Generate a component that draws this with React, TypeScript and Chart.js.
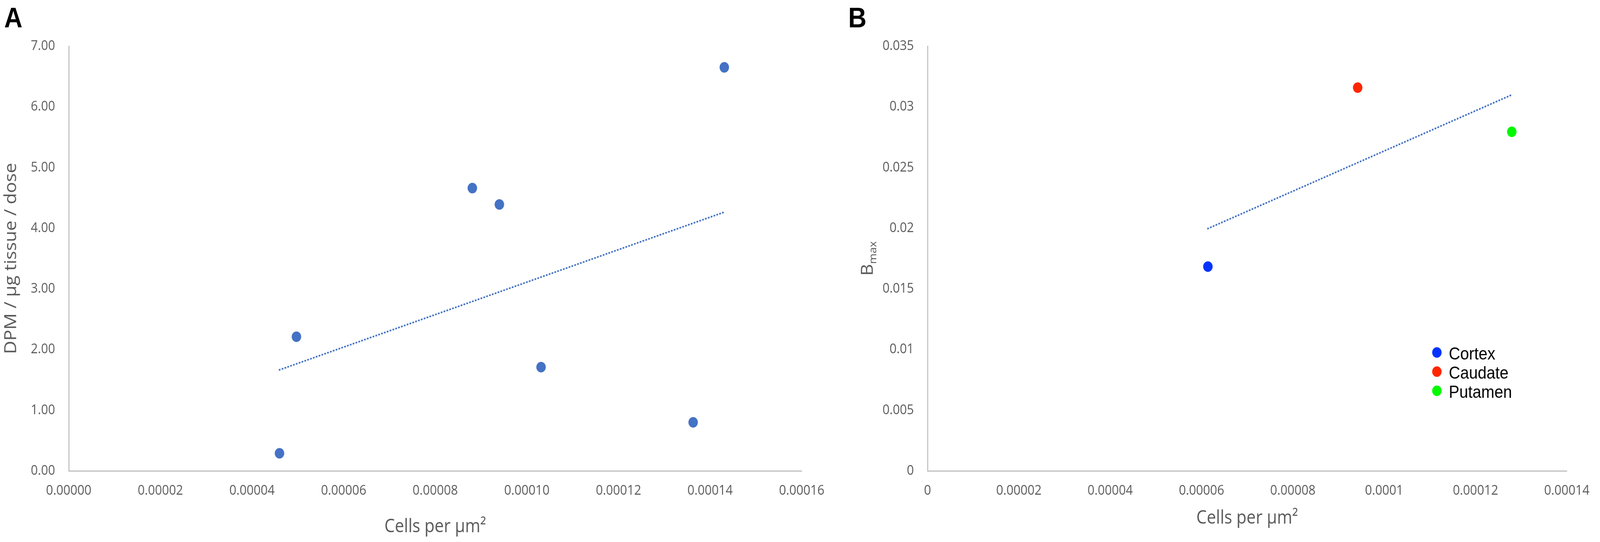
import { useEffect, useRef } from "react"
import { Chart, registerables } from "chart.js"

// Register Chart.js components
Chart.register(...registerables)

// Panel A: DPM per µg tissue per dose against cell density
const cellsA = [0.000046, 0.0000497, 0.0000881, 0.000094, 0.0001031, 0.0001363, 0.0001431]
const dpmA = [0.29, 2.21, 4.66, 4.39, 1.71, 0.8, 6.65]
const xTicksA = [0, 0.00002, 0.00004, 0.00006, 0.00008, 0.0001, 0.00012, 0.00014, 0.00016]
const yTicksA = [0, 1, 2, 3, 4, 5, 6, 7]

// Panel B: Bmax by region
const regionsB = ["Cortex", "Caudate", "Putamen"]
const cellsB = [0.0000614, 0.0000942, 0.00012795]
const bmaxB = [0.01683, 0.03158, 0.02794]
const colorsB = ["#0433FF", "#FF2600", "#00F900"]
const xTicksB = [0, 0.00002, 0.00004, 0.00006, 0.00008, 0.0001, 0.00012, 0.00014]
const yTicksB = [0, 0.005, 0.01, 0.015, 0.02, 0.025, 0.03, 0.035]

const GREY = "#595959"
const AXIS = "#BFBFBF"
const TREND = "#4472C4"
const FONT = "'Open Sans', sans-serif"
const TICK_FONT = { family: FONT, size: 35 }
const TITLE_FONT = { family: FONT, size: 47 }

// figure is laid out at this size, then squeezed to the window width
const WIDTH = 4561
const HEIGHT = 1387
const X_AXIS_HEIGHT = 182

// least squares line over the range of the data
function trendline(xs: number[], ys: number[]) {
  const n = xs.length
  const mx = xs.reduce((a, b) => a + b, 0) / n
  const my = ys.reduce((a, b) => a + b, 0) / n
  let sxy = 0
  let sxx = 0
  xs.forEach((x, i) => {
    sxy += (x - mx) * (ys[i] - my)
    sxx += (x - mx) * (x - mx)
  })
  const slope = sxy / sxx
  const lo = Math.min(...xs)
  const hi = Math.max(...xs)
  return [
    { x: lo, y: my + slope * (lo - mx) },
    { x: hi, y: my + slope * (hi - mx) },
  ]
}

function trendDataset(xs: number[], ys: number[]) {
  return {
    label: "trend",
    data: trendline(xs, ys),
    showLine: true,
    borderColor: TREND,
    borderWidth: 4.5,
    borderDash: [1, 7.5],
    borderCapStyle: "round",
    pointRadius: 0,
  }
}

function xScale(ticks: number[], fmt: (v: number) => string, title: string, titlePad: number) {
  return {
    type: "linear",
    min: ticks[0],
    max: ticks[ticks.length - 1],
    afterBuildTicks: (s: any) => {
      s.ticks = ticks.map((value) => ({ value }))
    },
    afterFit: (s: any) => {
      s.height = X_AXIS_HEIGHT
    },
    grid: { display: false, drawTicks: false, tickLength: 0 },
    border: { display: true, color: AXIS, width: 3 },
    ticks: {
      color: GREY,
      font: TICK_FONT,
      padding: 30,
      maxRotation: 0,
      autoSkip: false,
      callback: (v: any) => fmt(Number(v)),
    },
    title: { display: true, text: title, color: GREY, font: TITLE_FONT, padding: { top: 0, bottom: titlePad } },
  }
}

function yScale(ticks: number[], fmt: (v: number) => string, width: number, title?: string) {
  return {
    type: "linear",
    min: ticks[0],
    max: ticks[ticks.length - 1],
    afterBuildTicks: (s: any) => {
      s.ticks = ticks.map((value) => ({ value }))
    },
    afterFit: (s: any) => {
      s.width = width
    },
    grid: { display: false, drawTicks: false, tickLength: 0 },
    border: { display: true, color: AXIS, width: 3 },
    ticks: {
      color: GREY,
      font: TICK_FONT,
      padding: 39,
      autoSkip: false,
      callback: (v: any) => fmt(Number(v)),
    },
    title: {
      display: !!title,
      text: title || "",
      color: GREY,
      font: TITLE_FONT,
      padding: { top: 4, bottom: 0 },
    },
  }
}

// y title of panel B with a subscript
const bmaxTitle = {
  id: "bmaxTitle",
  afterDraw(chart: any) {
    const { ctx, chartArea } = chart
    ctx.save()
    ctx.fillStyle = GREY
    ctx.textBaseline = "alphabetic"
    ctx.font = `47px ${FONT}`
    const wB = ctx.measureText("B").width
    ctx.font = `29px ${FONT}`
    const wM = ctx.measureText("max").width
    const start = (chartArea.top + chartArea.bottom) / 2 + (wB + wM) / 2
    ctx.translate(chartArea.left - 156, start)
    ctx.rotate(-Math.PI / 2)
    ctx.font = `47px ${FONT}`
    ctx.fillText("B", 0, 0)
    ctx.font = `29px ${FONT}`
    ctx.fillText("max", wB, 10)
    ctx.restore()
  },
}

// legend inside the plot area of panel B
const regionLegend = {
  id: "regionLegend",
  afterDraw(chart: any) {
    const { ctx, chartArea } = chart
    const x = chartArea.left + 1452
    const y0 = chartArea.top + 784
    ctx.save()
    regionsB.forEach((name, i) => {
      const y = y0 + i * 49
      ctx.beginPath()
      ctx.arc(x, y, 13.5, 0, Math.PI * 2)
      ctx.fillStyle = colorsB[i]
      ctx.fill()
      ctx.fillStyle = "#000"
      ctx.font = "45px 'Liberation Sans', Arial, sans-serif"
      ctx.textBaseline = "middle"
      ctx.fillText(name, x + 34, y + 6)
    })
    ctx.restore()
  },
}

function PanelA() {
  const chartRef = useRef<HTMLCanvasElement>(null)
  const chartInstance = useRef<Chart | null>(null)

  useEffect(() => {
    if (!chartRef.current) return
    if (chartInstance.current) chartInstance.current.destroy()

    const ctx = chartRef.current.getContext("2d")
    if (!ctx) return

    chartInstance.current = new Chart(ctx, {
      type: "scatter",
      data: {
        datasets: [
          trendDataset(cellsA, dpmA) as any,
          {
            label: "DPM",
            data: cellsA.map((x, i) => ({ x, y: dpmA[i] })),
            backgroundColor: "#4472C4",
            borderWidth: 0,
            pointRadius: 13.5,
          },
        ],
      },
      options: {
        animation: false,
        responsive: false,
        devicePixelRatio: 1,
        events: [],
        layout: { padding: { top: 118, right: 90, left: 0, bottom: 0 } },
        plugins: { legend: { display: false }, tooltip: { enabled: false } },
        scales: {
          x: xScale(xTicksA, (v) => v.toFixed(5), "Cells per µm²", 10) as any,
          y: yScale(yTicksA, (v) => v.toFixed(2), 196, "DPM / µg tissue / dose") as any,
        },
      },
    })

    return () => {
      if (chartInstance.current) {
        chartInstance.current.destroy()
        chartInstance.current = null
      }
    }
  }, [])

  return <canvas ref={chartRef} width={2380} height={HEIGHT} style={{ position: "absolute", left: 0, top: 0 }} />
}

function PanelB() {
  const chartRef = useRef<HTMLCanvasElement>(null)
  const chartInstance = useRef<Chart | null>(null)

  useEffect(() => {
    if (!chartRef.current) return
    if (chartInstance.current) chartInstance.current.destroy()

    const ctx = chartRef.current.getContext("2d")
    if (!ctx) return

    chartInstance.current = new Chart(ctx, {
      type: "scatter",
      data: {
        datasets: [
          trendDataset(cellsB, bmaxB) as any,
          ...regionsB.map((name, i) => ({
            label: name,
            data: [{ x: cellsB[i], y: bmaxB[i] }],
            backgroundColor: colorsB[i],
            borderWidth: 0,
            pointRadius: 13.5,
          })),
        ],
      },
      options: {
        animation: false,
        responsive: false,
        devicePixelRatio: 1,
        events: [],
        layout: { padding: { top: 118, right: 77, left: 0, bottom: 0 } },
        plugins: { legend: { display: false }, tooltip: { enabled: false } },
        scales: {
          x: xScale(xTicksB, (v) => String(Number(v.toFixed(5))), "Cells per µm²", 32) as any,
          y: yScale(yTicksB, (v) => String(Number(v.toFixed(3))), 264) as any,
        },
      },
      plugins: [bmaxTitle, regionLegend],
    })

    return () => {
      if (chartInstance.current) {
        chartInstance.current.destroy()
        chartInstance.current = null
      }
    }
  }, [])

  return <canvas ref={chartRef} width={2181} height={HEIGHT} style={{ position: "absolute", left: 2380, top: 0 }} />
}

const letterStyle: React.CSSProperties = {
  position: "absolute",
  top: 9,
  font: "bold 72px 'Liberation Sans', Arial, sans-serif",
  lineHeight: 1,
  color: "#000",
}

export default function App() {
  // the browser window can be narrower than the figure, so squeeze it to fit
  const sx = Math.min(1, window.innerWidth / WIDTH)
  const sy = Math.min(1, window.innerHeight / HEIGHT)

  return (
    <div
      style={{
        position: "absolute",
        left: 0,
        top: 0,
        width: WIDTH,
        height: HEIGHT,
        background: "#fff",
        overflow: "hidden",
        transform: `scale(${sx}, ${sy})`,
        transformOrigin: "0 0",
      }}
    >
      <PanelA />
      <PanelB />
      <div style={{ ...letterStyle, left: 12 }}>A</div>
      <div style={{ ...letterStyle, left: 2418 }}>B</div>
    </div>
  )
}
